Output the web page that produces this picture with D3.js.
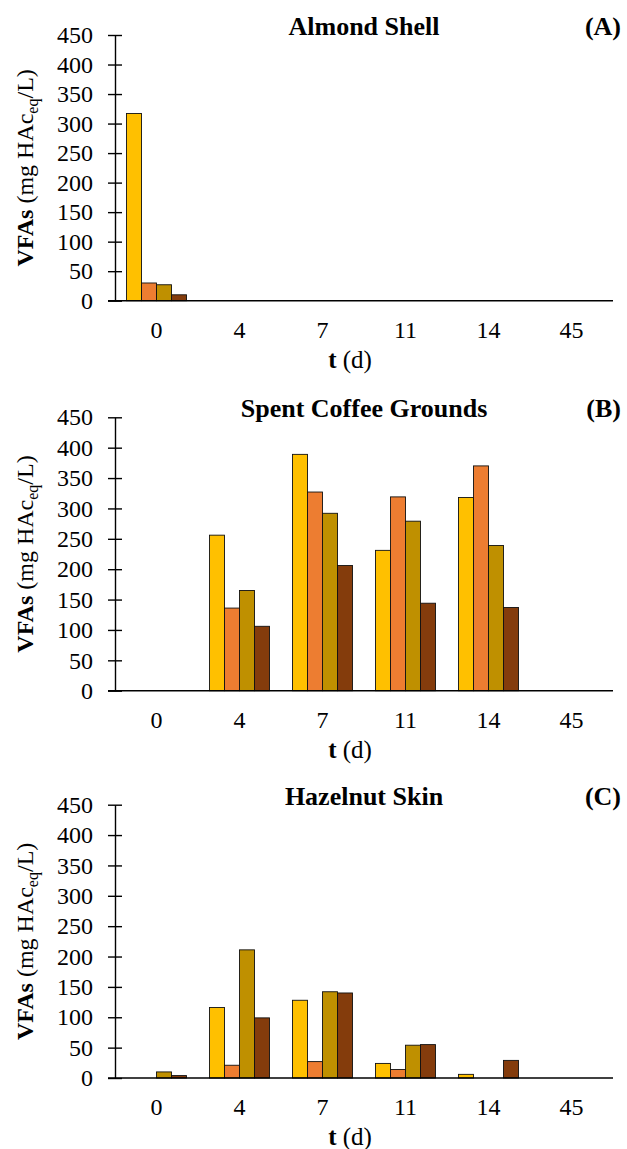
<!DOCTYPE html>
<html>
<head>
<meta charset="utf-8">
<script src="https://cdn.jsdelivr.net/npm/d3@7"></script>
<style>
  body { margin: 0; background: #fff; }
  svg { display: block; font-family: "Liberation Serif", "Times New Roman", serif; }
</style>
</head>
<body>
<svg width="627" height="1149"></svg>
<script>
// sampling days (category axis)
var days = ["0", "4", "7", "11", "14", "45"];
var yTicks = [0, 50, 100, 150, 200, 250, 300, 350, 400, 450];
var colors = ["#FFC000", "#ED7D31", "#BF9000", "#843C0C"];

// Almond Shell, one array per series
var almondA = [317, 0, 0, 0, 0, 0];
var almondB = [30, 0, 0, 0, 0, 0];
var almondC = [27, 0, 0, 0, 0, 0];
var almondD = [10, 0, 0, 0, 0, 0];

// Spent Coffee Grounds
var coffeeA = [0, 256, 389, 231, 318, 0];
var coffeeB = [0, 136, 327, 319, 370, 0];
var coffeeC = [0, 165, 292, 279, 239, 0];
var coffeeD = [0, 106, 206, 144, 137, 0];

// Hazelnut Skin
var hazelA = [0, 116, 128, 24, 6, 0];
var hazelB = [0, 21, 27, 14, 0, 0];
var hazelC = [10, 211, 142, 54, 0, 0];
var hazelD = [4, 99, 140, 55, 29, 0];

var panels = [
	{ title: "Almond Shell", tag: "(A)", top: 35, zero: 300.7, series: [almondA, almondB, almondC, almondD] },
	{ title: "Spent Coffee Grounds", tag: "(B)", top: 417.3, zero: 690.7, series: [coffeeA, coffeeB, coffeeC, coffeeD] },
	{ title: "Hazelnut Skin", tag: "(C)", top: 804.7, zero: 1078, series: [hazelA, hazelB, hazelC, hazelD] }
];

var svg = d3.select("svg");
var left = 115, right = 613;

var x = d3.scaleBand().domain(days).range([left, right]).paddingInner(0).paddingOuter(0);
var groupPad = 11.5;
var xs = d3.scaleBand().domain(d3.range(4)).range([groupPad, x.bandwidth() - groupPad]);

panels.forEach(function(p) {
	var g = svg.append("g");
	var y = d3.scaleLinear().domain([0, 450]).range([p.zero, p.top]);

	// bars
	p.series.forEach(function(vals, si) {
		g.append("g")
			.selectAll("rect")
			.data(vals)
			.enter().append("rect")
				.attr("x", function(d, i) { return x(days[i]) + xs(si); })
				.attr("y", function(d) { return y(d); })
				.attr("width", xs.bandwidth())
				.attr("height", function(d) { return y(0) - y(d); })
				.attr("fill", colors[si])
				.attr("stroke", "#111")
				.attr("stroke-width", 0.9);
	});

	// y axis
	var ay = g.append("g")
		.attr("transform", "translate(" + left + ",0)")
		.call(d3.axisLeft(y).tickValues(yTicks).tickSize(7).tickSizeOuter(0).tickPadding(15));
	ay.select(".domain").attr("stroke", "#000").attr("stroke-width", 1.4);
	ay.selectAll(".tick line").attr("x1", 7).attr("x2", -7).attr("stroke", "#000").attr("stroke-width", 1.4);
	ay.selectAll(".tick text").attr("font-size", 24).attr("fill", "#000")
		.attr("font-family", "Liberation Serif");

	// x axis
	var ax = g.append("g")
		.attr("transform", "translate(0," + p.zero + ")")
		.call(d3.axisBottom(x).tickSize(0).tickPadding(20));
	ax.select(".domain").attr("d", "M" + (left - 7) + ",0H" + right).attr("stroke", "#000").attr("stroke-width", 1.4);
	ax.selectAll(".tick text").attr("font-size", 24).attr("fill", "#000")
		.attr("font-family", "Liberation Serif");

	// titles
	g.append("text")
		.attr("x", 364).attr("y", p.top)
		.attr("text-anchor", "middle")
		.attr("font-size", 26).attr("font-weight", "bold")
		.text(p.title);
	g.append("text")
		.attr("x", 621).attr("y", p.top)
		.attr("text-anchor", "end")
		.attr("font-size", 26).attr("font-weight", "bold")
		.text(p.tag);

	// x axis title
	var xt = g.append("text")
		.attr("x", 350).attr("y", p.zero + 67)
		.attr("text-anchor", "middle")
		.attr("font-size", 25);
	xt.append("tspan").attr("font-weight", "bold").text("t");
	xt.append("tspan").text(" (d)");

	// y axis title
	var yt = g.append("text")
		.attr("transform", "translate(33," + ((p.top + p.zero) / 2) + ") rotate(-90)")
		.attr("text-anchor", "middle")
		.attr("font-size", 24);
	yt.append("tspan").attr("font-weight", "bold").text("VFAs");
	yt.append("tspan").text(" (mg HAc");
	yt.append("tspan").attr("font-size", 16).attr("dy", 5).text("eq");
	yt.append("tspan").attr("dy", -5).text("/L)");
});
</script>
</body>
</html>
